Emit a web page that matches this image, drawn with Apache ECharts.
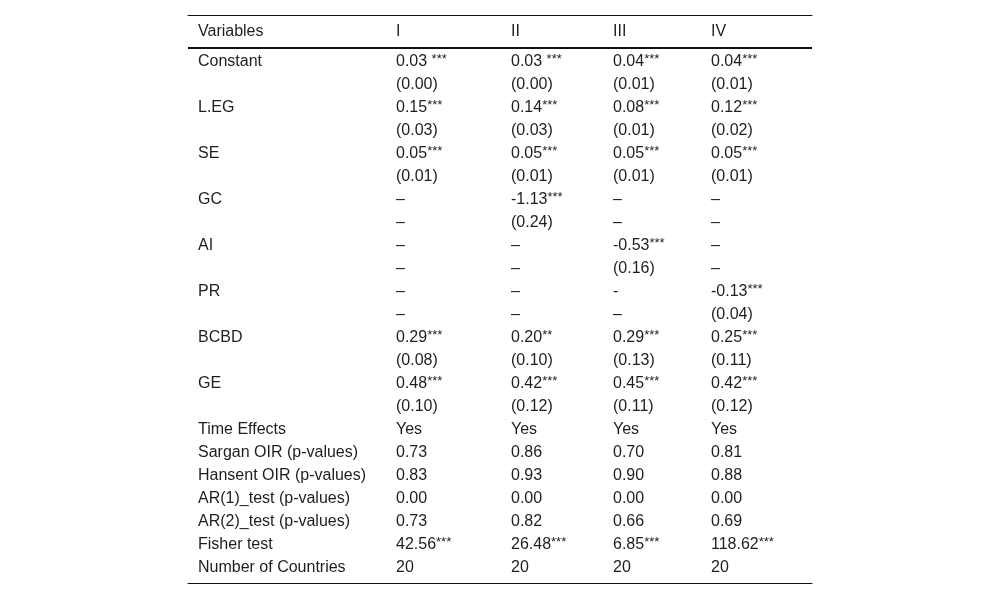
<!DOCTYPE html>
<html>
<head>
<meta charset="utf-8">
<script src="https://cdn.jsdelivr.net/npm/echarts@6/dist/echarts.min.js"></script>
<style>
html,body{margin:0;padding:0;background:#fff;}
#main{width:1000px;height:599px;}
</style>
</head>
<body>
<div id="main"></div>
<script>
// ---- data ----
const headers = ['Variables', 'I', 'II', 'III', 'IV'];
const rowLabels = ['Constant', '', 'L.EG', '', 'SE', '', 'GC', '', 'AI', '', 'PR', '', 'BCBD', '', 'GE', '',
  'Time Effects', 'Sargan OIR (p-values)', 'Hansent OIR (p-values)', 'AR(1)_test (p-values)',
  'AR(2)_test (p-values)', 'Fisher test', 'Number of Countries'];
const modelI = ['0.03 ***', '(0.00)', '0.15***', '(0.03)', '0.05***', '(0.01)', '–', '–', '–', '–', '–', '–',
  '0.29***', '(0.08)', '0.48***', '(0.10)', 'Yes', '0.73', '0.83', '0.00', '0.73', '42.56***', '20'];
const modelII = ['0.03 ***', '(0.00)', '0.14***', '(0.03)', '0.05***', '(0.01)', '-1.13***', '(0.24)', '–', '–', '–', '–',
  '0.20**', '(0.10)', '0.42***', '(0.12)', 'Yes', '0.86', '0.93', '0.00', '0.82', '26.48***', '20'];
const modelIII = ['0.04***', '(0.01)', '0.08***', '(0.01)', '0.05***', '(0.01)', '–', '–', '-0.53***', '(0.16)', '-', '–',
  '0.29***', '(0.13)', '0.45***', '(0.11)', 'Yes', '0.70', '0.90', '0.00', '0.66', '6.85***', '20'];
const modelIV = ['0.04***', '(0.01)', '0.12***', '(0.02)', '0.05***', '(0.01)', '–', '–', '–', '–', '-0.13***', '(0.04)',
  '0.25***', '(0.11)', '0.42***', '(0.12)', 'Yes', '0.81', '0.88', '0.00', '0.69', '118.62***', '20'];

// ---- layout (table geometry, in axis units) ----
const tableWidth = 624;                    // x-axis extent
const colStart = [10, 208, 323, 425, 523]; // left edge of each column's text
const tableHeight = 24.7;                  // y-axis extent in row units
const headerRow = 0.74;
const headerRule = 1.435;
const firstRow = 2.03;

const columns = [rowLabels, modelI, modelII, modelIII, modelIV];
const cells = [];
headers.forEach((h, c) => cells.push([colStart[c], headerRow, h]));
columns.forEach((col, c) => {
  col.forEach((txt, r) => {
    if (txt !== '') cells.push([colStart[c], firstRow + r, txt]);
  });
});

const FONT = '"Liberation Sans", Arial, Helvetica, sans-serif';
const chart = echarts.init(document.getElementById('main'), null, {renderer: 'canvas'});
chart.setOption({
  backgroundColor: '#ffffff',
  animation: false,
  grid: {left: 188, right: 188, top: 15, bottom: 16},
  xAxis: [
    {type: 'value', min: 0, max: tableWidth, position: 'top',
      axisLine: {show: true, onZero: false, lineStyle: {color: '#111', width: 1}},
      axisTick: {show: false}, axisLabel: {show: false}, splitLine: {show: false}},
    {type: 'value', min: 0, max: tableWidth, position: 'bottom',
      axisLine: {show: true, onZero: false, lineStyle: {color: '#111', width: 1}},
      axisTick: {show: false}, axisLabel: {show: false}, splitLine: {show: false}}
  ],
  yAxis: {type: 'value', min: 0, max: tableHeight, inverse: true, show: false},
  series: [
    {
      type: 'line', silent: true, symbol: 'none', xAxisIndex: 0,
      lineStyle: {color: '#111', width: 2},
      data: [[0, headerRule], [tableWidth, headerRule]]
    },
    {
      type: 'custom', silent: true, xAxisIndex: 0,
      data: cells,
      renderItem: function (params, api) {
        const p = api.coord([api.value(0), api.value(1)]);
        const raw = cells[params.dataIndex][2];
        const txt = raw.replace(/(\*+)$/, '{s|$1}');
        return {
          type: 'text',
          x: p[0], y: p[1],
          style: {
            text: txt,
            fill: '#1e1e1e',
            fontSize: 16,
            lineHeight: 18,
            fontFamily: FONT,
            align: 'left',
            verticalAlign: 'middle',
            rich: {
              s: {fontSize: 13, fontFamily: FONT, fill: '#1e1e1e', verticalAlign: 'top', lineHeight: 7}
            }
          }
        };
      }
    }
  ]
});
</script>
</body>
</html>
